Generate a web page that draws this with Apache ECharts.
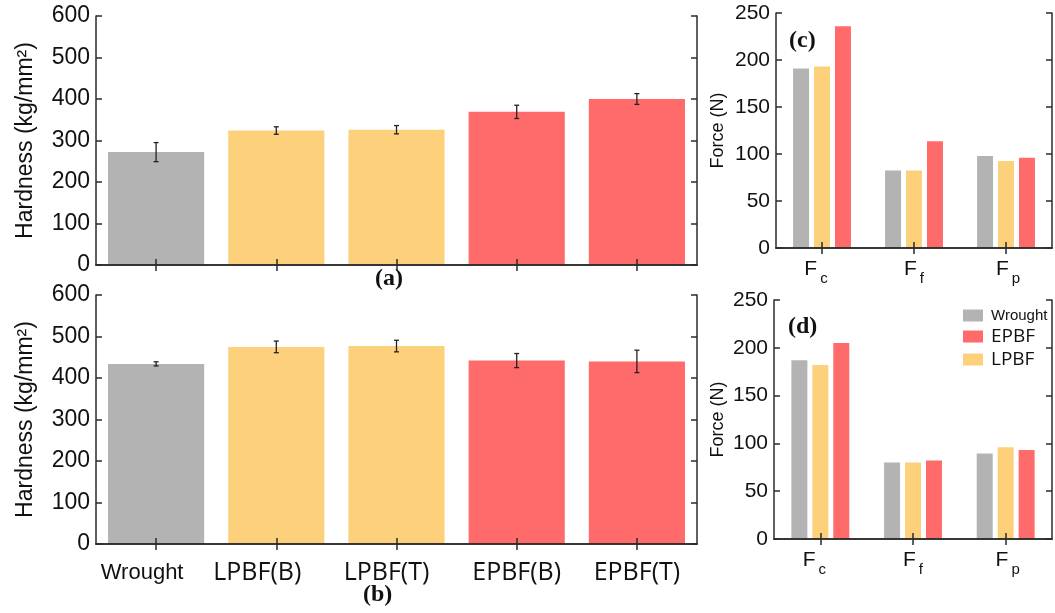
<!DOCTYPE html>
<html><head><meta charset="utf-8">
<script src="https://cdn.jsdelivr.net/npm/echarts@6/dist/echarts.min.js"></script>
<style>html,body{margin:0;padding:0;background:#fff}#c{width:1055px;height:613px}</style>
</head><body><div id="c"></div>
<script>
// ---------- data ----------
const hardnessCategories = ['Wrought', 'LPBF(B)', 'LPBF(T)', 'EPBF(B)', 'EPBF(T)'];
const hardnessA = [272, 324, 326, 369, 400];
const hardnessAErr = [23, 9, 10, 16, 13];
const hardnessB = [434, 475, 477, 442, 440];
const hardnessBErr = [5, 14, 14, 17, 27];
const hardnessTicks = [0, 100, 200, 300, 400, 500, 600];

const forceCategories = ['Fc', 'Ff', 'Fp'];
const forceSubscripts = ['c', 'f', 'p'];
const forceSeriesNames = ['Wrought', 'LPBF', 'EPBF'];
const forceC_Wrought = [191, 82.5, 98];
const forceC_LPBF = [193, 82.5, 92.5];
const forceC_EPBF = [236, 113.5, 96];
const forceD_Wrought = [187, 80, 89.5];
const forceD_LPBF = [182, 80, 96];
const forceD_EPBF = [205, 82, 93];
const forceTicks = [0, 50, 100, 150, 200, 250];
const legendOrder = ['Wrought', 'EPBF', 'LPBF'];
const panelLabels = ['(a)', '(b)', '(c)', '(d)'];

// ---------- styles / layout ----------
const COLORS = { Wrought: '#b3b3b3', LPBF: '#fdd17c', EPBF: '#ff6b6a' };
const AXIS_COLOR = '#2b2b2b';
const hardLabelShift = [14, 19, 10, 0, 0]; // px shift to the left of each category label
const forceLabelShift = [6, 0, -2];
function groupOf(cat) { return cat.startsWith('LPBF') ? 'LPBF' : cat.startsWith('EPBF') ? 'EPBF' : 'Wrought'; }

const grids = [
  { left: 96, top: 16, width: 601, height: 249 },
  { left: 96, top: 295, width: 601, height: 249 },
  { left: 776, top: 13, width: 276, height: 235 },
  { left: 774, top: 300, width: 278, height: 239 }
];

const lineStyle = { color: AXIS_COLOR, width: 1.5 };
const xAxes = [], yAxes = [];
function addAxes(g, cats, showLabels, labelCfg, ticks, yLabelCfg, yName, nameCfg) {
  xAxes.push({
    type: 'category', gridIndex: g, data: cats, position: 'bottom', z: 10,
    axisLine: { show: true, lineStyle }, axisTick: { show: true, inside: true, alignWithLabel: true, length: 6, lineStyle },
    axisLabel: Object.assign({ show: showLabels }, labelCfg), splitLine: { show: false }
  });
  xAxes.push({
    type: 'category', gridIndex: g, data: cats, position: 'top', z: 10,
    axisLine: { show: true, lineStyle }, axisTick: { show: true, inside: true, alignWithLabel: true, length: 6, lineStyle },
    axisLabel: { show: false }, splitLine: { show: false }
  });
  const min = ticks[0], max = ticks[ticks.length - 1], interval = ticks[1] - ticks[0];
  yAxes.push(Object.assign({
    type: 'value', gridIndex: g, min, max, interval, position: 'left', z: 10,
    axisLine: { show: true, lineStyle }, axisTick: { show: true, inside: true, length: 6, lineStyle },
    axisLabel: yLabelCfg, splitLine: { show: false },
    name: yName, nameLocation: 'middle'
  }, nameCfg));
  yAxes.push({
    type: 'value', gridIndex: g, min, max, interval, position: 'right', z: 10,
    axisLine: { show: true, lineStyle }, axisTick: { show: true, inside: true, length: 6, lineStyle },
    axisLabel: { show: false }, splitLine: { show: false }
  });
}

const hardRich = {};
hardnessCategories.forEach((c, i) => {
  hardRich['t' + i] = {
    fontFamily: i === 0 ? 'Liberation Sans, Arial' : 'Open Sans',
    fontSize: i === 0 ? 22 : 25, lineHeight: 28, color: '#111',
    padding: [0, 2 * hardLabelShift[i], 0, 0]
  };
});
const hardLabelCfg = {
  margin: 15,
  formatter: (v, i) => '{t' + i + '|' + v + '}',
  rich: hardRich
};
const hardYLabel = { fontFamily: 'Liberation Sans, Arial', fontSize: 23, color: '#111', margin: 6 };
const hardName = { nameGap: 59, nameTextStyle: { fontFamily: 'Liberation Sans, Arial', fontSize: 23, color: '#111' } };

const forceRich = {};
forceSubscripts.forEach((s, i) => {
  const sh = forceLabelShift[i];
  forceRich['F' + i] = {
    fontFamily: 'Liberation Sans, Arial', fontSize: 21, lineHeight: 24, verticalAlign: 'top', color: '#111',
    padding: [0, 0, 0, sh < 0 ? -2 * sh : 0]
  };
  forceRich['s' + i] = {
    fontFamily: 'Liberation Sans, Arial', fontSize: 15, lineHeight: 15, color: '#111',
    padding: [16, sh > 0 ? 2 * sh : 0, 0, 3]
  };
});
const forceLabelCfg = {
  margin: 11,
  formatter: (v, i) => '{F' + i + '|F}{s' + i + '|' + forceSubscripts[i] + '}',
  rich: forceRich
};
const forceYLabel = { fontFamily: 'Liberation Sans, Arial', fontSize: 21, color: '#111', margin: 6 };

addAxes(0, hardnessCategories, false, {}, hardnessTicks, hardYLabel, 'Hardness (kg/mm²)', hardName);
addAxes(1, hardnessCategories, true, hardLabelCfg, hardnessTicks, hardYLabel, 'Hardness (kg/mm²)', hardName);
addAxes(2, forceCategories, true, forceLabelCfg, forceTicks, forceYLabel, 'Force (N)',
  { nameGap: 49, nameTextStyle: { fontFamily: 'Liberation Sans, Arial', fontSize: 18, color: '#111' } });
addAxes(3, forceCategories, true, forceLabelCfg, forceTicks, forceYLabel, 'Force (N)',
  { nameGap: 47, nameTextStyle: { fontFamily: 'Liberation Sans, Arial', fontSize: 18, color: '#111' } });

const series = [];
function hardnessSeries(g, values, errs) {
  series.push({
    type: 'bar', name: 'hardness-' + g, xAxisIndex: 2 * g, yAxisIndex: 2 * g, barWidth: '80%', z: 2,
    data: values.map((v, i) => ({ value: v, itemStyle: { color: COLORS[groupOf(hardnessCategories[i])] } }))
  });
  series.push({
    type: 'custom', name: 'err-' + g, xAxisIndex: 2 * g, yAxisIndex: 2 * g, z: 4,
    encode: { x: 0, y: [1, 2] },
    data: values.map((v, i) => [i, v - errs[i], v + errs[i]]),
    renderItem: (params, api) => {
      const x = api.value(0);
      const lo = api.coord([x, api.value(1)]);
      const hi = api.coord([x, api.value(2)]);
      const w = 2.5;
      const st = { stroke: '#222', lineWidth: 1.3 };
      return {
        type: 'group', children: [
          { type: 'line', shape: { x1: lo[0], y1: lo[1], x2: hi[0], y2: hi[1] }, style: st },
          { type: 'line', shape: { x1: lo[0] - w, y1: lo[1], x2: lo[0] + w, y2: lo[1] }, style: st },
          { type: 'line', shape: { x1: hi[0] - w, y1: hi[1], x2: hi[0] + w, y2: hi[1] }, style: st }
        ]
      };
    }
  });
}
hardnessSeries(0, hardnessA, hardnessAErr);
hardnessSeries(1, hardnessB, hardnessBErr);

function forceSeries(g, arrays) {
  forceSeriesNames.forEach((n, k) => {
    series.push({
      type: 'bar', name: n, xAxisIndex: 2 * g, yAxisIndex: 2 * g, barWidth: 16, barGap: '31%', z: 2,
      itemStyle: { color: COLORS[n] }, data: arrays[k]
    });
  });
}
forceSeries(2, [forceC_Wrought, forceC_LPBF, forceC_EPBF]);
forceSeries(3, [forceD_Wrought, forceD_LPBF, forceD_EPBF]);

const titleStyle = { fontFamily: 'Liberation Serif, Times New Roman', fontWeight: 'bold', fontSize: 24, color: '#111' };
const titlePos = [{ left: 375, top: 267 }, { left: 363, top: 583 }, { left: 789, top: 29 }, { left: 788, top: 315 }];
const titles = panelLabels.map((t, i) => Object.assign({ text: t, padding: 0, textStyle: titleStyle }, titlePos[i]));

const chart = echarts.init(document.getElementById('c'));
chart.setOption({
  animation: false,
  backgroundColor: '#fff',
  title: titles,
  grid: grids,
  xAxis: xAxes,
  yAxis: yAxes,
  legend: {
    data: legendOrder, orient: 'vertical', left: 963, top: 308, padding: 0,
    itemWidth: 20, itemHeight: 12, itemGap: 4, icon: 'rect', selectedMode: false,
    formatter: n => n === 'Wrought' ? '{w|Wrought}' : '{e|' + n + '}',
    textStyle: {
      rich: {
        w: { fontFamily: 'Liberation Sans, Arial', fontSize: 15, lineHeight: 18, color: '#111', padding: [0, 0, 0, 3] },
        e: { fontFamily: 'Open Sans', fontSize: 19, lineHeight: 18, color: '#111', padding: [0, 0, 0, 3] }
      }
    }
  },
  series
});
</script></body></html>
